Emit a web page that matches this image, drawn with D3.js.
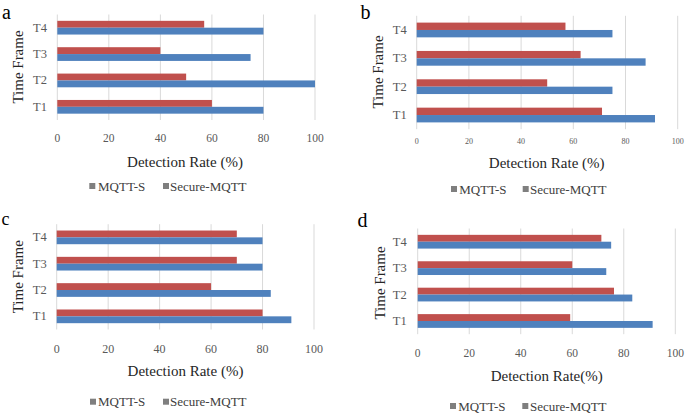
<!DOCTYPE html>
<html>
<head>
<meta charset="utf-8">
<script src="https://cdn.jsdelivr.net/npm/d3@7"></script>
<style>
  html, body { margin: 0; padding: 0; background: #fff; }
  svg text { font-family: 'Liberation Serif', 'Times New Roman', 'DejaVu Serif', serif; }
</style>
</head>
<body>
<svg id="chart" width="685" height="413"></svg>
<script>
// ---- data ----
const categories = ["T1", "T2", "T3", "T4"];
const seriesNames = ["MQTT-S", "Secure-MQTT"];
const xTickValues = [0, 20, 40, 60, 80, 100];
const panelLetters = ["a", "b", "c", "d"];
const xTitles = ["Detection Rate (%)", "Detection Rate (%)", "Detection Rate (%)", "Detection Rate(%)"];
const yTitle = "Time Frame";

const aMqttS  = [60, 50, 40, 57];
const aSecure = [80, 100, 75, 80];
const bMqttS  = [71, 50, 62.8, 57];
const bSecure = [91.3, 75, 87.7, 75];
const cMqttS  = [80, 60, 70, 70];
const cSecure = [91.2, 83.2, 80, 80];
const dMqttS  = [59.2, 76.2, 60, 71.3];
const dSecure = [91.2, 83.3, 73.2, 75.1];

const seriesColors = ["#C0504D", "#4F81BD"];
const FONT = "'Liberation Serif', 'Times New Roman', 'DejaVu Serif', serif";

// ---- layout per panel ----
const panels = [
  { letter: panelLetters[0], title: xTitles[0], s1: aMqttS, s2: aSecure,
    x0: 57.3, x1: 315, y0: 14.5, y1: 120, tickY: 137.7, tickSize: 11.5,
    titleX: 185, titleY: 162, legY: 186, leg: [89.3, 98, 163, 170],
    yTickX: 47, yTitleX: 18, yTitleY: 67, letX: 2, letY: 18.5, letSize: 20 },
  { letter: panelLetters[1], title: xTitles[1], s1: bMqttS, s2: bSecure,
    x0: 416.7, x1: 677.7, y0: 15.8, y1: 129.2, tickY: 141, tickSize: 8,
    titleX: 546.7, titleY: 163, legY: 189, leg: [451, 459.3, 522.7, 530],
    yTickX: 406.7, yTitleX: 378, yTitleY: 72, letX: 360.5, letY: 18.5, letSize: 20 },
  { letter: panelLetters[2], title: xTitles[2], s1: cMqttS, s2: cSecure,
    x0: 56.7, x1: 314, y0: 224.2, y1: 329.5, tickY: 349, tickSize: 12,
    titleX: 185.5, titleY: 370.7, legY: 401.7, leg: [90, 98, 163, 170],
    yTickX: 46.7, yTitleX: 18, yTitleY: 276.7, letX: 1.5, letY: 225, letSize: 18 },
  { letter: panelLetters[3], title: xTitles[3], s1: dMqttS, s2: dSecure,
    x0: 417.7, x1: 675.3, y0: 228.5, y1: 334.2, tickY: 352.7, tickSize: 11.5,
    titleX: 546.7, titleY: 376, legY: 406, leg: [450, 458.3, 522.3, 530],
    yTickX: 406.7, yTitleX: 380, yTitleY: 283, letX: 357.5, letY: 226.5, letSize: 20 }
];

const svg = d3.select("#chart").attr("font-family", FONT);

panels.forEach(p => {
  const g = svg.append("g").attr("font-family", FONT);
  const x = d3.scaleLinear().domain([0, 100]).range([p.x0, p.x1]);
  const y = d3.scaleBand().domain(categories.slice().reverse())
    .range([p.y0, p.y1]).paddingInner(0.48).paddingOuter(0.24);
  const ys = d3.scaleBand().domain(seriesNames).range([0, y.bandwidth()]);

  // gridlines
  g.selectAll("line.grid").data(xTickValues).join("line")
    .attr("x1", d => x(d)).attr("x2", d => x(d))
    .attr("y1", p.y0).attr("y2", p.y1)
    .attr("stroke", "#d9d9d9").attr("stroke-width", 1);

  // bars
  const rows = categories.map((c, i) => ({ c, vals: [p.s1[i], p.s2[i]] }));
  rows.forEach(r => {
    r.vals.forEach((v, k) => {
      g.append("rect")
        .attr("x", x(0))
        .attr("y", y(r.c) + ys(seriesNames[k]))
        .attr("width", x(v) - x(0))
        .attr("height", ys.bandwidth())
        .attr("fill", seriesColors[k]);
    });
  });

  // x tick labels
  g.selectAll("text.xt").data(xTickValues).join("text")
    .attr("x", d => x(d)).attr("y", p.tickY)
    .attr("text-anchor", "middle").attr("dominant-baseline", "central")
    .attr("font-size", p.tickSize).attr("fill", "#595959")
    .text(d => d);

  // y tick labels
  g.selectAll("text.yt").data(categories).join("text")
    .attr("x", p.yTickX).attr("y", d => y(d) + y.bandwidth() / 2)
    .attr("text-anchor", "end").attr("dominant-baseline", "central")
    .attr("font-size", 12.5).attr("fill", "#595959")
    .text(d => d);

  // x title
  g.append("text").attr("x", p.titleX).attr("y", p.titleY)
    .attr("text-anchor", "middle").attr("dominant-baseline", "central")
    .attr("font-size", 15).attr("fill", "#262626").text(p.title);

  // y title
  g.append("text")
    .attr("transform", `translate(${p.yTitleX},${p.yTitleY}) rotate(-90)`)
    .attr("text-anchor", "middle").attr("dominant-baseline", "central")
    .attr("font-size", 15).attr("fill", "#262626").text(yTitle);

  // legend
  seriesNames.forEach((s, k) => {
    g.append("rect").attr("x", p.leg[k * 2]).attr("y", p.legY - 3)
      .attr("width", 6).attr("height", 6).attr("fill", "#7f7f7f");
    g.append("text").attr("x", p.leg[k * 2 + 1]).attr("y", p.legY)
      .attr("dominant-baseline", "central")
      .attr("font-size", 13).attr("fill", "#404040").text(s);
  });

  // panel letter
  g.append("text").attr("x", p.letX).attr("y", p.letY)
    .attr("font-size", p.letSize).attr("fill", "#000").text(p.letter);
});
</script>
</body>
</html>
